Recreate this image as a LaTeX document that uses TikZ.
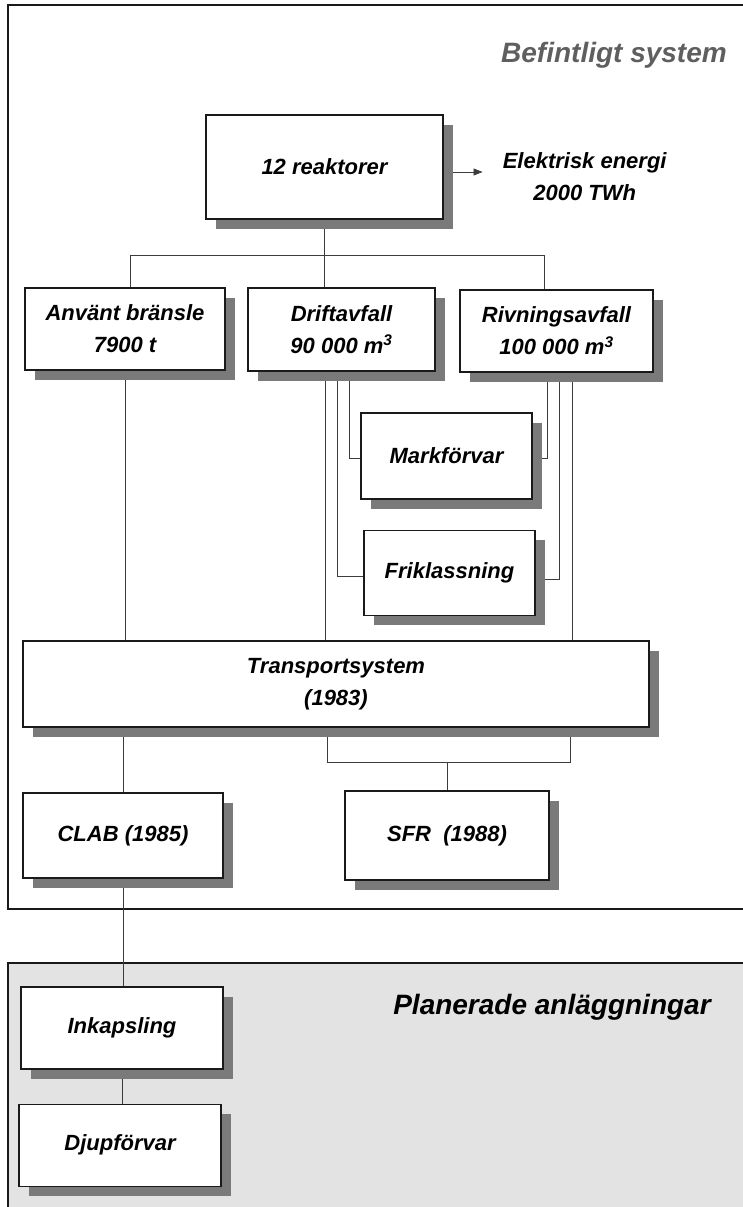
\documentclass[tikz,border=0pt]{standalone}
\usepackage{fontspec}
\setmainfont{Liberation Sans}
\usepackage{tikz}
\usetikzlibrary{positioning, arrows.meta, shadows}
\pgfdeclarelayer{back}
\pgfsetlayers{back,main}
\definecolor{ink}{HTML}{1A1A1A}
\definecolor{shade}{HTML}{7A7A7A}
\definecolor{plan}{HTML}{E3E3E3}
\newcommand{\lbl}{\fontsize{22}{32}\selectfont\bfseries\itshape}
\newcommand{\hdg}{\fontsize{28}{32}\selectfont\bfseries\itshape}

\begin{document}
\begin{tikzpicture}[x=1pt, y=-1pt, every node/.style={font=\lbl},
   box/.style={draw=ink, fill=white, line width=1.1pt, align=center, inner sep=0pt,
     drop shadow={shadow xshift=10pt, shadow yshift=-10pt, fill=shade, opacity=1}},
   lnk/.style={draw=ink!85, line width=0.7pt},
   arr/.style={lnk, -{Triangle[length=9pt, width=7pt]}},
   frame/.style={draw=ink, line width=1.6pt},
   heading/.style={font=\hdg, inner sep=0pt}]
  \useasboundingbox (0,0) rectangle (743,1207);
  % existing system
  \node[heading, text=ink!70, anchor=east] (befint) at (727,55) {Befintligt system};
  \node[box, minimum width=237pt, minimum height=104pt] (reakt) at (324.5,167) {12 reaktorer};
  \node[align=center, inner sep=0pt, right=59pt of reakt, yshift=-10pt] (elenergi) {Elektrisk energi\\2000 TWh};
  \node[box, minimum width=200pt, minimum height=82pt] (anvant) at (125,329) {Använt bränsle\\7900 t};
  \node[box, minimum width=187pt, minimum height=83pt] (drift) at (341.5,329.5) {Driftavfall\\90 000 m\textsuperscript{3}};
  \node[box, minimum width=193pt, minimum height=82pt] (rivn) at (556.5,331) {Rivningsavfall\\100 000 m\textsuperscript{3}};
  \node[box, minimum width=171pt, minimum height=86pt] (mark) at (446.5,456) {Markförvar};
  \node[box, minimum width=171pt, minimum height=85pt, below=30pt of mark, xshift=3pt] (frikl) {Friklassning};
  \node[box, minimum width=626pt, minimum height=86pt] (transp) at (336,684) {Transportsystem\\(1983)};
  \node[box, minimum width=200pt, minimum height=85pt] (clab) at (123,835.5) {CLAB (1985)};
  \node[box, minimum width=204pt, minimum height=89pt] (sfr) at (447,835.5) {SFR\ \ (1988)};
  % planned facilities
  \node[heading] (planer) at (552,1007) {Planerade anläggningar};
  \node[box, minimum width=202pt, minimum height=82pt] (inkap) at (122,1028) {Inkapsling};
  \node[box, minimum width=202pt, minimum height=82pt, below=34pt of inkap, xshift=-2pt] (djup) {Djupförvar};

  \begin{pgfonlayer}{back}
    \draw[frame] (743,5) -- (8,5) -- (8,909) -- (743,909);
    \fill[plan] (8,963) rectangle (743,1207);
    \draw[frame] (743,963) -- (8,963) -- (8,1207);
    \coordinate (split) at ([yshift=-36pt]reakt.south);
    \coordinate (sj) at ([yshift=28pt]sfr.north);
    \coordinate (dA) at ([xshift=-16.5pt]drift.south);
    \coordinate (dB) at ([xshift=-4.5pt]drift.south);
    \coordinate (dC) at ([xshift=7.5pt]drift.south);
    \coordinate (rA) at ([xshift=-9.5pt]rivn.south);
    \coordinate (rB) at ([xshift=2.5pt]rivn.south);
    \coordinate (rC) at ([xshift=15.5pt]rivn.south);
    \draw[arr, shorten >=20pt] ([yshift=-5pt]reakt.east) -- ([yshift=5pt]elenergi.west);
    \draw[lnk] ([xshift=5pt]anvant.north) |- (split) -| ([xshift=-12.5pt]rivn.north);
    \foreach \a/\b in {reakt/drift, anvant/transp, clab/inkap, inkap/djup}
      \draw[lnk] (\a.south) -- (\a.south |- \b.north);
    \draw[lnk] (dC) |- ([yshift=-2pt]mark.west);
    \draw[lnk] (rA) |- ([yshift=-2pt]mark.east);
    \draw[lnk] (dB) |- ([yshift=-4pt]frikl.west);
    \draw[lnk] (rB) |- ([yshift=-7pt]frikl.east);
    \foreach \c in {dA, rC}
      \draw[lnk] (\c) -- (\c |- transp.north);
    \draw[lnk] (clab.north) -- (clab.north |- transp.south);
    \draw[lnk] ([xshift=-9pt]transp.south) |- (sj) -| ([xshift=234pt]transp.south);
    \draw[lnk] (sj) -- (sfr.north);
  \end{pgfonlayer}
\end{tikzpicture}
\end{document}
